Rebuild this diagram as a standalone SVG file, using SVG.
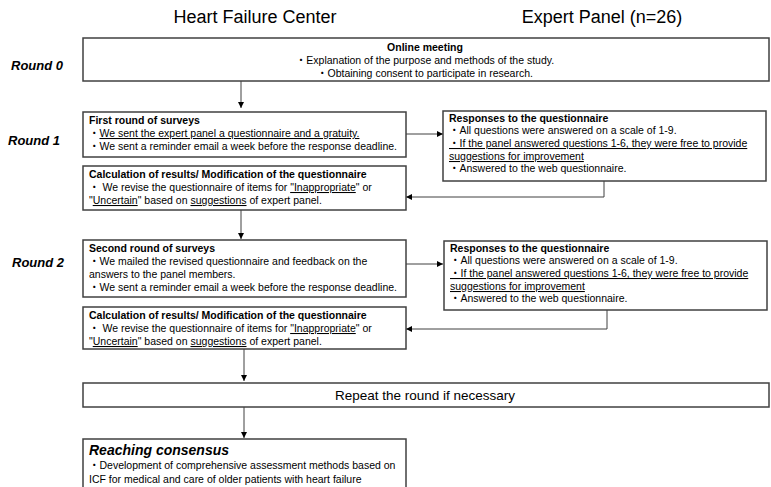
<svg xmlns="http://www.w3.org/2000/svg" width="771" height="487" viewBox="0 0 771 487">
<defs>
<marker id="ah" viewBox="0 0 10 10" refX="10" refY="5" markerWidth="6" markerHeight="6" orient="auto" markerUnits="userSpaceOnUse">
<path d="M0,0 L10,5 L0,10 z" fill="#000"/>
</marker>
<style>
text{font-family:"Liberation Sans",Arial,"Noto Sans CJK JP",sans-serif;fill:#000;}
.box{fill:#fff;stroke:#404040;stroke-width:1.5;}
.t{font-size:10.5px;}
.b{font-size:10.5px;font-weight:bold;}
.hd{font-size:18px;}
.rd{font-size:13px;font-weight:bold;font-style:italic;}
.u{text-decoration:underline;}
.c{text-anchor:middle;}
.conn{fill:none;stroke:#404040;stroke-width:1;}
</style>
</defs>
<rect width="771" height="487" fill="#fff"/>
<g id="headers">
<text class="hd c" x="255" y="23">Heart Failure Center</text>
<text class="hd c" x="602" y="23">Expert Panel (n=26)</text>
</g>
<g id="round-labels">
<text class="rd" x="11" y="70">Round 0</text>
<text class="rd" x="8" y="145">Round 1</text>
<text class="rd" x="12" y="267">Round 2</text>
</g>
<g id="connectors">
<path class="conn" d="M241,81 V108" marker-end="url(#ah)"/>
<path class="conn" d="M406,134 H443" marker-end="url(#ah)"/>
<path class="conn" d="M604,181 V197 H406" marker-end="url(#ah)"/>
<path class="conn" d="M241,210 V239" marker-end="url(#ah)"/>
<path class="conn" d="M406,264 H443" marker-end="url(#ah)"/>
<path class="conn" d="M607,310 V329 H406" marker-end="url(#ah)"/>
<path class="conn" d="M244,349 V381" marker-end="url(#ah)"/>
<path class="conn" d="M244,407 V438" marker-end="url(#ah)"/>
</g>
<g id="online-meeting">
<rect class="box" x="83" y="38" width="686" height="43"/>
<text class="b c" x="425" y="51">Online meeting</text>
<text class="t c" x="425" y="64">・Explanation of the purpose and methods of the study.</text>
<text class="t c" x="425" y="77">・Obtaining consent to participate in research.</text>
</g>
<g id="first-round">
<rect class="box" x="83" y="112" width="323" height="45"/>
<text class="b" x="89" y="124">First round of surveys</text>
<text class="t" x="89" y="137"> ・<tspan class="u">We sent the expert panel a questionnaire and a gratuity.</tspan></text>
<text class="t" x="89" y="150"> ・We sent a reminder email a week before the response deadline.</text>
</g>
<g id="responses-1">
<rect class="box" x="443" y="111" width="323" height="70"/>
<text class="b" x="449" y="122">Responses to the questionnaire</text>
<text class="t" x="449" y="134"> ・All questions were answered on a scale of 1-9.</text>
<text class="t u" x="449" y="147"> ・If the panel answered questions 1-6, they were free to provide</text>
<text class="t u" x="449" y="160">suggestions for improvement</text>
<text class="t" x="449" y="172"> ・Answered to the web questionnaire.</text>
</g>
<g id="calc-1">
<rect class="box" x="83" y="166" width="323" height="44"/>
<text class="b" x="89" y="178">Calculation of results/ Modification of the questionnaire</text>
<text class="t" x="89" y="191"> ・ We revise the questionnaire of items for <tspan class="u">"Inappropriate</tspan>" or</text>
<text class="t" x="89" y="204">"<tspan class="u">Uncertain</tspan>" based on <tspan class="u">suggestions</tspan> of expert panel.</text>
</g>
<g id="second-round">
<rect class="box" x="83" y="240" width="323" height="57"/>
<text class="b" x="89" y="252">Second round of surveys</text>
<text class="t" x="89" y="265"> ・We mailed the revised questionnaire and feedback on the</text>
<text class="t" x="89" y="278">answers to the panel members.</text>
<text class="t" x="89" y="291"> ・We sent a reminder email a week before the response deadline.</text>
</g>
<g id="responses-2">
<rect class="box" x="444" y="241" width="323" height="69"/>
<text class="b" x="450" y="252">Responses to the questionnaire</text>
<text class="t" x="450" y="264"> ・All questions were answered on a scale of 1-9.</text>
<text class="t u" x="450" y="277"> ・If the panel answered questions 1-6, they were free to provide</text>
<text class="t u" x="450" y="290">suggestions for improvement</text>
<text class="t" x="450" y="302"> ・Answered to the web questionnaire.</text>
</g>
<g id="calc-2">
<rect class="box" x="83" y="307" width="323" height="42"/>
<text class="b" x="89" y="319">Calculation of results/ Modification of the questionnaire</text>
<text class="t" x="89" y="332"> ・ We revise the questionnaire of items for <tspan class="u">"Inappropriate</tspan>" or</text>
<text class="t" x="89" y="345">"<tspan class="u">Uncertain</tspan>" based on <tspan class="u">suggestions</tspan> of expert panel.</text>
</g>
<g id="repeat">
<rect class="box" x="83" y="383" width="686" height="24"/>
<text class="c" x="425" y="400" font-size="13.5">Repeat the round if necessary</text>
</g>
<g id="consensus">
<rect class="box" x="83" y="439" width="323" height="60"/>
<text x="89" y="455" font-size="14" font-weight="bold" font-style="italic">Reaching consensus</text>
<text class="t" x="89" y="469"> ・Development of comprehensive assessment methods based on</text>
<text class="t" x="89" y="483">ICF for medical and care of older patients with heart failure</text>
</g>
</svg>
